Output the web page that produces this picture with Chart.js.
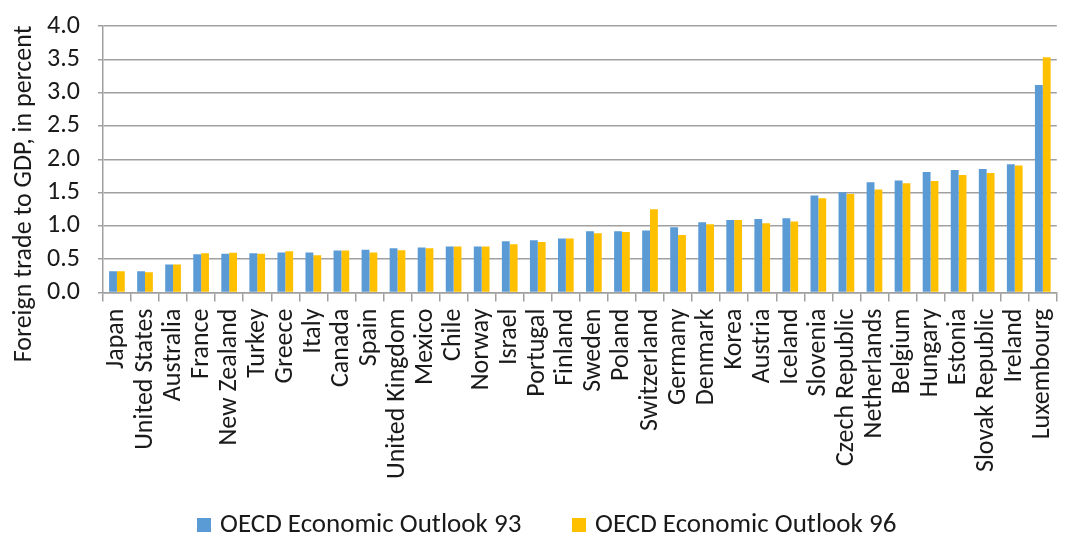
<!DOCTYPE html>
<html>
<head>
<meta charset="utf-8">
<script src="https://cdn.jsdelivr.net/npm/chart.js@4/dist/chart.umd.min.js"></script>
<style>
  html, body { margin: 0; padding: 0; background: #fff; }
  #wrap { width: 1081px; height: 536px; }
</style>
</head>
<body>
<div id="wrap"><canvas id="tradeChart"></canvas></div>
<script>
var countries = ['Japan', 'United States', 'Australia', 'France', 'New Zealand', 'Turkey',
    'Greece', 'Italy', 'Canada', 'Spain', 'United Kingdom', 'Mexico', 'Chile', 'Norway',
    'Israel', 'Portugal', 'Finland', 'Sweden', 'Poland', 'Switzerland', 'Germany', 'Denmark',
    'Korea', 'Austria', 'Iceland', 'Slovenia', 'Czech Republic', 'Netherlands', 'Belgium',
    'Hungary', 'Estonia', 'Slovak Republic', 'Ireland', 'Luxembourg'];

var outlook93 = [0.32, 0.32, 0.42, 0.575, 0.58, 0.59, 0.60, 0.60, 0.63, 0.64, 0.665, 0.675,
    0.69, 0.69, 0.77, 0.785, 0.81, 0.92, 0.92, 0.93, 0.98, 1.055, 1.09, 1.105, 1.115, 1.455,
    1.505, 1.655, 1.68, 1.81, 1.84, 1.855, 1.925, 3.115];

var outlook96 = [0.32, 0.305, 0.42, 0.59, 0.595, 0.58, 0.62, 0.56, 0.63, 0.60, 0.635, 0.665,
    0.69, 0.69, 0.725, 0.76, 0.81, 0.89, 0.91, 1.25, 0.865, 1.025, 1.09, 1.04, 1.065, 1.415,
    1.48, 1.545, 1.64, 1.675, 1.765, 1.795, 1.905, 3.53];

var seriesNames = ['OECD Economic Outlook 93', 'OECD Economic Outlook 96'];
var yTicks = [0, 0.5, 1, 1.5, 2, 2.5, 3, 3.5, 4];
var yTitle = 'Foreign trade to GDP, in percent';

var FONT = 'Carlito, Calibri, "Noto Sans", sans-serif';
var FONT_SIZE = 26;
var TEXT = '#1a1a1a';
var GRID = '#a0a0a0';

// rotated axis title and the bottom legend are painted by hand
var extras = {
    id: 'extras',
    afterDraw: function (chart) {
        var ctx = chart.ctx;
        ctx.save();
        ctx.fillStyle = TEXT;
        ctx.font = FONT_SIZE + 'px ' + FONT;
        ctx.textAlign = 'center';
        ctx.textBaseline = 'middle';
        ctx.translate(24, 194);
        ctx.rotate(-Math.PI / 2);
        ctx.fillText(yTitle, 0, 0);
        ctx.restore();

        ctx.save();
        ctx.font = '27px ' + FONT;
        ctx.textBaseline = 'middle';
        ctx.textAlign = 'left';
        var y = 525;
        var starts = [197, 572];
        chart.data.datasets.forEach(function (ds, i) {
            ctx.fillStyle = ds.backgroundColor;
            ctx.fillRect(starts[i], y - 7, 14, 14);
            ctx.fillStyle = TEXT;
            ctx.fillText(ds.label, starts[i] + 23, y);
        });
        ctx.restore();
    }
};

var ctx = document.getElementById('tradeChart').getContext('2d');

var tradeChart = new Chart(ctx, {
    type: 'bar',
    data: {
        labels: countries,
        datasets: [{
            label: seriesNames[0],
            backgroundColor: '#5b9bd5',
            data: outlook93
        }, {
            label: seriesNames[1],
            backgroundColor: '#ffc000',
            data: outlook96
        }]
    },
    options: {
        responsive: true,
        maintainAspectRatio: false,
        animation: false,
        categoryPercentage: 0.56,
        barPercentage: 1.0,
        layout: {
            padding: { left: 29, right: 1, top: 26, bottom: 50 }
        },
        plugins: {
            legend: { display: false },
            tooltip: { enabled: false }
        },
        scales: {
            x: {
                grid: {
                    drawOnChartArea: false,
                    drawTicks: true,
                    tickLength: 9,
                    color: GRID,
                    lineWidth: 1.5
                },
                border: { color: GRID, width: 1.5 },
                ticks: {
                    autoSkip: false,
                    minRotation: 90,
                    maxRotation: 90,
                    padding: 7,
                    color: TEXT,
                    font: { family: FONT, size: FONT_SIZE }
                }
            },
            y: {
                min: 0,
                max: 4,
                afterBuildTicks: function (scale) {
                    scale.ticks = yTicks.map(function (v) { return { value: v }; });
                },
                // the wide tick padding would otherwise push the plot down
                afterFit: function (scale) {
                    scale.paddingTop = 0;
                    scale.paddingBottom = 0;
                },
                grid: {
                    color: GRID,
                    lineWidth: 1.5,
                    tickLength: 5
                },
                border: { color: GRID, width: 1.5 },
                ticks: {
                    autoSkip: false,
                    padding: 18,
                    color: TEXT,
                    font: { family: FONT, size: FONT_SIZE },
                    callback: function (v) { return v.toFixed(1); }
                }
            }
        }
    },
    plugins: [extras]
});
</script>
</body>
</html>
